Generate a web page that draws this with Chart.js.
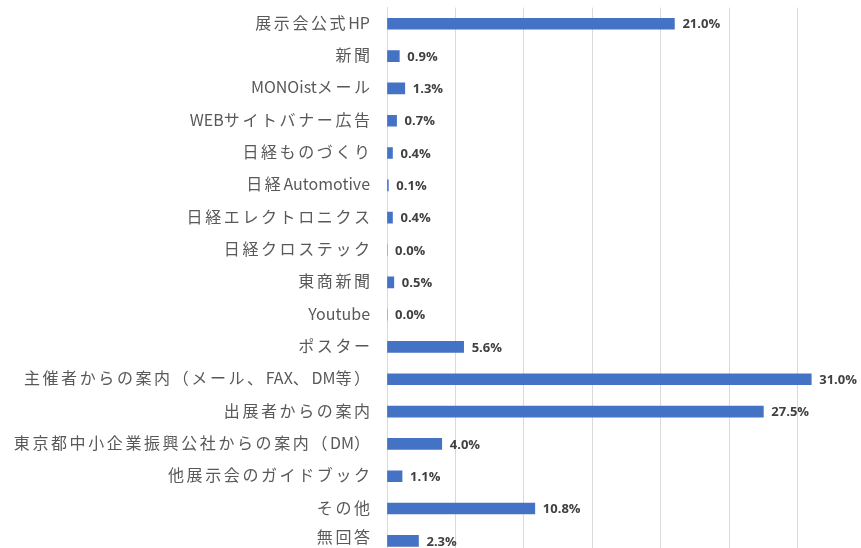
<!DOCTYPE html>
<html>
<head>
<meta charset="utf-8">
<script src="https://cdn.jsdelivr.net/npm/chart.js@4"></script>
<style>
  html, body { margin: 0; padding: 0; background: #fff; }
  #wrap { width: 861px; height: 548px; overflow: hidden; position: relative; }
  canvas { position: absolute; left: 0; top: 0; }
</style>
</head>
<body>
<div id="wrap"><canvas id="chart" width="880" height="575"></canvas></div>
<script>
const categories = [
  '展示会公式HP', '新聞', 'MONOistメール', 'WEBサイトバナー広告', '日経ものづくり',
  '日経Automotive', '日経エレクトロニクス', '日経クロステック', '東商新聞', 'Youtube',
  'ポスター', '主催者からの案内（メール、FAX、DM等）', '出展者からの案内',
  '東京都中小企業振興公社からの案内（DM）', '他展示会のガイドブック', 'その他', '無回答'
];
const shares = [21.0, 0.9, 1.3, 0.7, 0.4, 0.1, 0.4, 0.0, 0.5, 0.0, 5.6, 31.0, 27.5, 4.0, 1.1, 10.8, 2.3];
const gridSteps = [0, 5, 10, 15, 20, 25, 30, 35];

const cjk = /[\u3000-\u30ff\u4e00-\u9fff\uff00-\uffef]/;

// category labels: wide-set CJK, normal latin
const categoryLabels = {
  id: 'categoryLabels',
  afterDraw(chart) {
    const ctx = chart.ctx;
    const y = chart.scales.y;
    ctx.save();
    ctx.font = '16px "Noto Sans CJK JP", sans-serif';
    ctx.fillStyle = '#595959';
    ctx.textBaseline = 'middle';
    ctx.textAlign = 'left';
    categories.forEach((label, i) => {
      const parts = [];
      let buf = '';
      for (const ch of label) {
        if (cjk.test(ch)) {
          if (buf) { parts.push({ t: buf, w: ctx.measureText(buf).width }); buf = ''; }
          parts.push({ t: ch, w: ctx.measureText(ch).width + 2.6, c: true });
        } else {
          buf += ch;
        }
      }
      if (buf) parts.push({ t: buf, w: ctx.measureText(buf).width });
      let total = parts.reduce((s, p) => s + p.w, 0);
      if (parts[parts.length - 1].c) total -= 2.6;
      let x = 370 - total;
      // keep the last label inside the visible page
      const py = Math.min(y.getPixelForTick(i) - 1, 537);
      parts.forEach(p => {
        ctx.fillText(p.t, x, py);
        x += p.w;
      });
    });
    ctx.restore();
  }
};

// value labels drawn right of each bar
const valueLabels = {
  id: 'valueLabels',
  afterDatasetsDraw(chart) {
    const ctx = chart.ctx;
    const meta = chart.getDatasetMeta(0);
    ctx.save();
    ctx.font = 'bold 13px "Open Sans", sans-serif';
    ctx.fillStyle = '#404040';
    ctx.textAlign = 'left';
    ctx.textBaseline = 'middle';
    meta.data.forEach((bar, i) => {
      ctx.fillText(shares[i].toFixed(1) + '%', bar.x + 8, bar.y + 1);
    });
    ctx.restore();
  }
};

new Chart(document.getElementById('chart'), {
  type: 'bar',
  data: {
    labels: categories,
    datasets: [{
      data: shares,
      backgroundColor: '#4472C4',
      barThickness: 11
    }]
  },
  options: {
    indexAxis: 'y',
    responsive: false,
    animation: false,
    devicePixelRatio: 1,
    layout: { padding: { left: 0, top: 7.6, right: 14, bottom: 18 } },
    plugins: {
      legend: { display: false },
      tooltip: { enabled: false }
    },
    scales: {
      x: {
        min: 0,
        max: 35,
        afterBuildTicks(scale) {
          scale.ticks = gridSteps.map(v => ({ value: v }));
        },
        ticks: { display: false },
        grid: { color: '#d9d9d9', drawTicks: false, lineWidth: 1 },
        border: { display: false },
        afterFit(scale) { scale.height = 0; }
      },
      y: {
        grid: { display: false },
        border: { display: true, color: '#d9d9d9', width: 1 },
        ticks: { display: false },
        afterFit(scale) {
          scale.width = 387;
          scale.paddingTop = 0;
          scale.paddingBottom = 0;
        }
      }
    }
  },
  plugins: [valueLabels, categoryLabels]
});
</script>
</body>
</html>
